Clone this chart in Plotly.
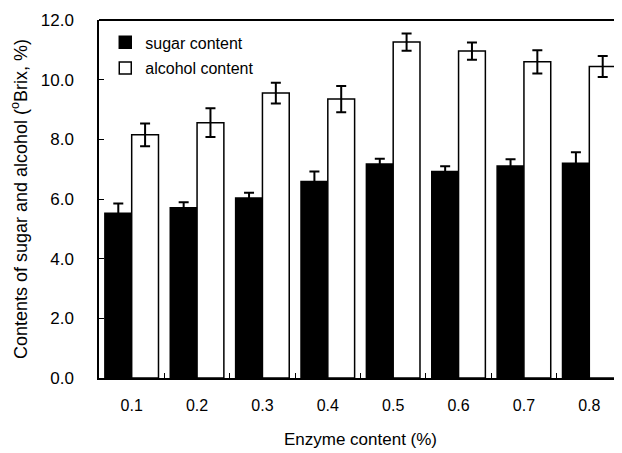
import plotly.graph_objects as go

categories = ["0.1", "0.2", "0.3", "0.4", "0.5", "0.6", "0.7", "0.8"]
sugar = [5.52, 5.71, 6.03, 6.59, 7.17, 6.92, 7.11, 7.20]
sugar_err = [0.33, 0.18, 0.18, 0.33, 0.18, 0.18, 0.22, 0.37]
alcohol = [8.15, 8.56, 9.55, 9.35, 11.26, 10.96, 10.60, 10.44]
alcohol_err = [0.38, 0.48, 0.35, 0.44, 0.29, 0.29, 0.39, 0.35]
y_ticks = [0, 2, 4, 6, 8, 10, 12]
y_tick_labels = ["0.0", "2.0", "4.0", "6.0", "8.0", "10.0", "12.0"]

font = "Liberation Sans, Arial, sans-serif"

fig = go.Figure()
fig.add_trace(go.Bar(
    x=categories, y=sugar, name="sugar content", legendgroup="s",
    marker=dict(color="black", line=dict(color="black", width=1.5)),
    error_y=dict(type="data", array=sugar_err, color="black", thickness=2, width=5),
))
fig.add_trace(go.Bar(
    x=categories, y=alcohol, name="alcohol content", legendgroup="a",
    marker=dict(color="white", line=dict(color="black", width=1.5)),
    error_y=dict(type="data", array=alcohol_err, color="black", thickness=2, width=5),
))

fig.update_layout(
    width=622, height=453,
    margin=dict(l=91, r=8, t=12, b=83),
    paper_bgcolor="white", plot_bgcolor="white",
    barmode="group", bargap=0.18, bargroupgap=0,
    font=dict(family=font, color="black", size=16),
    legend=dict(x=0.012, y=0.985, xanchor="left", yanchor="top",
                bgcolor="rgba(0,0,0,0)", font=dict(size=16),
                tracegroupgap=2, itemwidth=30),
    showlegend=True,
    shapes=[dict(type="line", xref="paper", yref="paper", x0=0, x1=1, y0=1, y1=1,
                 line=dict(color="black", width=2))],
)
fig.update_xaxes(
    type="category", automargin=False,
    showline=True, linecolor="black", linewidth=1.5,
    ticks="inside", tickson="boundaries", ticklen=5, tickcolor="black",
    ticklabelstandoff=12,
    showgrid=False,
    title=dict(text="Enzyme content (%)", font=dict(size=17), standoff=20),
    tickfont=dict(size=16),
)
fig.update_yaxes(
    range=[0, 12], automargin=False,
    tickvals=y_ticks, ticktext=y_tick_labels,
    showline=True, linecolor="black", linewidth=1.5,
    ticks="inside", ticklen=5, tickcolor="black",
    ticklabelstandoff=20,
    showgrid=False, zeroline=False,
    title=dict(text="Contents of sugar and alcohol (<sup>o</sup>Brix, %)", font=dict(size=18), standoff=10),
    tickfont=dict(size=17),
)

fig.write_html("out.html")
